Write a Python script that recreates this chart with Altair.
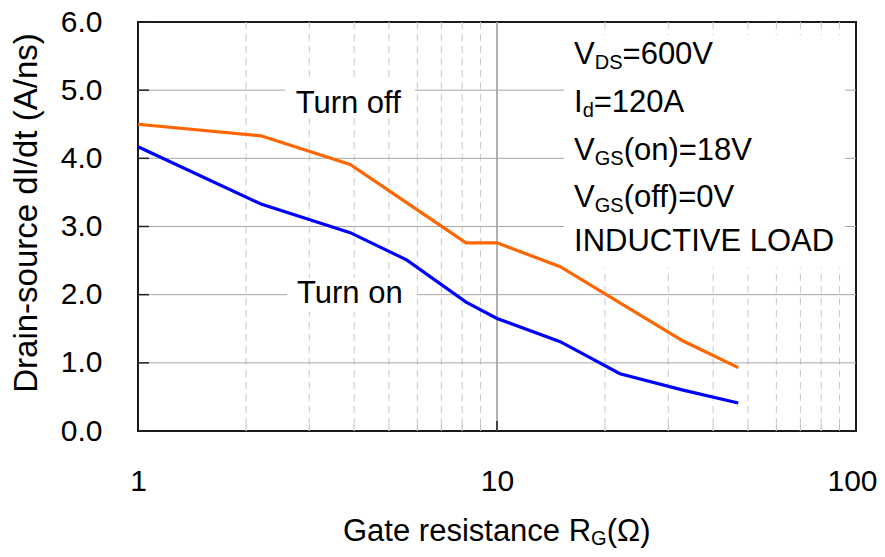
import altair as alt
import pandas as pd

# ---------------- data ----------------
R_VALUES = [1, 2.2, 3.9, 5.6, 8.2, 10, 15, 22, 33, 47]
TURN_OFF = [4.50, 4.33, 3.91, 3.35, 2.76, 2.76, 2.41, 1.88, 1.32, 0.93]
TURN_ON = [4.17, 3.33, 2.91, 2.51, 1.89, 1.65, 1.31, 0.84, 0.60, 0.41]
SERIES = ["Turn off", "Turn on"]
COLORS = ["#FF6600", "#0000FF"]

X_TICKS = [1, 10, 100]
Y_TICKS = [0, 1, 2, 3, 4, 5, 6]
MINOR_X = [2, 3, 4, 5, 6, 7, 8, 9, 20, 30, 40, 50, 60, 70, 80, 90]
MAJOR_X = [10]
H_GRID = [1, 2, 3, 4, 5]

LABEL_TEXT = ["Turn off", "Turn on"]
LABEL_R = [3.85, 3.89]
LABEL_V = [4.67, 1.88]

COND_MAIN = ["V", "I", "V", "V", "INDUCTIVE LOAD"]
COND_SUB = ["DS", "d", "GS", "GS", ""]
COND_TAIL = ["=600V", "=120A", "(on)=18V", "(off)=0V", ""]
COND_V = [5.39, 4.68, 3.975, 3.28, 2.645]
COND_R = 16.39

X_TITLE = ["Gate resistance R", "G", "(Ω)"]
Y_TITLE = "Drain-source dI/dt (A/ns)"

# white boxes behind the annotations (data coordinates)
BOX_R1 = [2.57, 2.60, 15.4]
BOX_R2 = [5.91, 5.98, 93.2]
BOX_V1 = [4.59, 1.75, 2.39]
BOX_V2 = [5.15, 2.24, 5.81]

FONT = "Liberation Sans"
W, H = 718, 409

xscale = alt.Scale(type="log", domain=[1, 100], nice=False)
yscale = alt.Scale(domain=[0, 6], nice=False, zero=False)

x_axis = alt.Axis(
    values=X_TICKS, format="d", labelFont=FONT, labelFontSize=30, labelColor="black",
    labelPadding=35, ticks=False, tickSize=0, domain=False, grid=False, title=None,
    labelFlush=False, labelOverlap=False,
    labelOffset={"condition": {"test": "datum.value >= 100", "value": -4}, "value": 0},
)
y_axis = alt.Axis(
    values=Y_TICKS, format=".1f", labelFont=FONT, labelFontSize=30, labelColor="black",
    labelPadding=36, ticks=False, tickSize=0, domain=False, grid=False, title=None,
    labelFlush=False, labelOverlap=False,
)


def X(field="r"):
    return alt.X(f"{field}:Q", scale=xscale, axis=x_axis)


def Y(field="v"):
    return alt.Y(f"{field}:Q", scale=yscale, axis=y_axis)


# ---------------- grid ----------------
grid_minor = alt.Chart(pd.DataFrame({"r": MINOR_X})).mark_rule(
    color="#c8c8c8", strokeWidth=1, strokeDash=[7, 5]
).encode(x=X())

grid_major = alt.Chart(pd.DataFrame({"r": MAJOR_X})).mark_rule(
    color="#a8a8a8", strokeWidth=1.8
).encode(x=X())

grid_h = alt.Chart(pd.DataFrame({"v": H_GRID})).mark_rule(
    color="#a8a8a8", strokeWidth=1
).encode(y=Y())

boxes = alt.Chart(pd.DataFrame({"r1": BOX_R1, "r2": BOX_R2, "v1": BOX_V1, "v2": BOX_V2})).mark_rect(
    color="white"
).encode(x=X("r1"), x2="r2:Q", y=Y("v1"), y2="v2:Q")

# ---------------- lines ----------------
rows = []
for name, vals in zip(SERIES, [TURN_OFF, TURN_ON]):
    for r, v in zip(R_VALUES, vals):
        rows.append({"r": r, "v": v, "series": name})
df_lines = pd.DataFrame(rows)

lines = alt.Chart(df_lines).mark_line(strokeWidth=3.2).encode(
    x=X("r"),
    y=Y("v"),
    color=alt.Color("series:N", scale=alt.Scale(domain=SERIES, range=COLORS), legend=None),
)

# ---------------- inside ticks ----------------
yticks = alt.Chart(pd.DataFrame({"v": Y_TICKS})).mark_rule(color="#222222", strokeWidth=1.5).encode(
    y=Y(), x=alt.value(0), x2=alt.value(11)
)
xticks_major = alt.Chart(pd.DataFrame({"r": MAJOR_X})).mark_rule(color="#222222", strokeWidth=1.5).encode(
    x=X(), y=alt.value(H), y2=alt.value(H - 10)
)
xticks_minor = alt.Chart(pd.DataFrame({"r": MINOR_X})).mark_rule(color="#b8b8b8", strokeWidth=1).encode(
    x=X(), y=alt.value(H), y2=alt.value(H - 6)
)

# ---------------- texts ----------------
layers_text = []
labels = alt.Chart(pd.DataFrame({"r": LABEL_R, "v": LABEL_V, "t": LABEL_TEXT})).mark_text(
    font=FONT, fontSize=31, align="center", baseline="alphabetic", color="black"
).encode(x=X(), y=Y(), text="t:N")
layers_text.append(labels)

MAIN_SIZE, SUB_SIZE = 31, 20
for i in range(len(COND_MAIN)):
    main_w = 8.6 if COND_MAIN[i] == "I" else 20.7
    sub_w = {"DS": 27.8, "GS": 28.9, "d": 11.1, "": 0}[COND_SUB[i]]
    base = pd.DataFrame({"r": [COND_R], "v": [COND_V[i]], "t": [COND_MAIN[i]]})
    layers_text.append(
        alt.Chart(base).mark_text(font=FONT, fontSize=MAIN_SIZE, align="left", baseline="alphabetic", color="black")
        .encode(x=X(), y=Y(), text="t:N")
    )
    if COND_SUB[i]:
        sub = pd.DataFrame({"r": [COND_R], "v": [COND_V[i]], "t": [COND_SUB[i]]})
        layers_text.append(
            alt.Chart(sub).mark_text(font=FONT, fontSize=SUB_SIZE, align="left", baseline="alphabetic",
                                     color="black", dx=main_w, dy=5)
            .encode(x=X(), y=Y(), text="t:N")
        )
    if COND_TAIL[i]:
        tail = pd.DataFrame({"r": [COND_R], "v": [COND_V[i]], "t": [COND_TAIL[i]]})
        layers_text.append(
            alt.Chart(tail).mark_text(font=FONT, fontSize=MAIN_SIZE, align="left", baseline="alphabetic",
                                      color="black", dx=main_w + sub_w)
            .encode(x=X(), y=Y(), text="t:N")
        )

# axis titles
xt_x = [205, 205 + 248.1, 205 + 248.1 + 15.6]
xt_size = [31, 20, 31]
xt_dy = [0, 4, 0]
for t, px, fs, dy in zip(X_TITLE, xt_x, xt_size, xt_dy):
    layers_text.append(
        alt.Chart(pd.DataFrame({"t": [t]})).mark_text(
            font=FONT, fontSize=fs, align="left", baseline="alphabetic", color="black", dy=dy
        ).encode(text="t:N", x=alt.value(px), y=alt.value(519))
    )

layers_text.append(
    alt.Chart(pd.DataFrame({"t": [Y_TITLE]})).mark_text(
        font=FONT, fontSize=33, align="center", baseline="alphabetic", color="black", angle=270
    ).encode(text="t:N", x=alt.value(-101), y=alt.value(191))
)

chart = alt.layer(
    grid_minor, grid_major, grid_h, boxes, lines, yticks, xticks_major, xticks_minor, *layers_text
).properties(
    width=W,
    height=H,
    padding={"left": 130, "top": 14, "right": 21, "bottom": 118},
    autosize=alt.AutoSizeParams(type="none"),
    background="white",
).configure_view(stroke="#1a1a1a", strokeWidth=2)

chart.save("out.html", embed_options={"renderer": "svg", "actions": False})
